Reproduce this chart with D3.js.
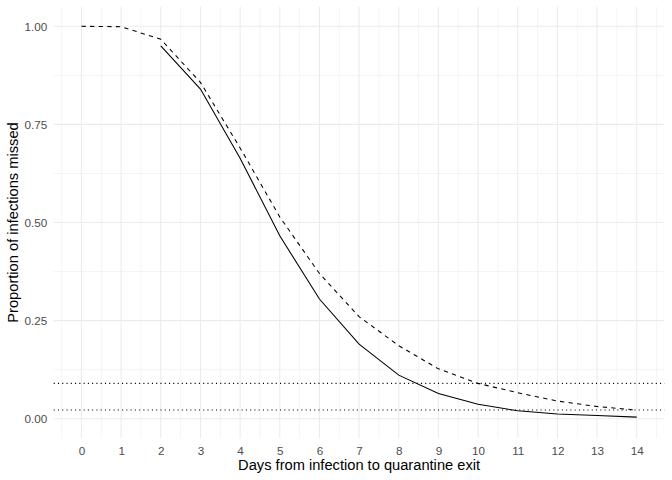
<!DOCTYPE html>
<html><head><meta charset="utf-8">
<script src="https://cdn.jsdelivr.net/npm/d3@7"></script>
<style>body{margin:0;background:#fff}svg{display:block}</style>
</head><body>
<script>
const days = [0,1,2,3,4,5,6,7,8,9,10,11,12,13,14];
const dashedVals = [1.0,0.999,0.967,0.857,0.690,0.514,0.370,0.260,0.186,0.127,0.090,0.066,0.045,0.031,0.022];
const solidDays = [2,3,4,5,6,7,8,9,10,11,12,13,14];
const solidVals = [0.950,0.840,0.664,0.466,0.305,0.190,0.111,0.064,0.037,0.020,0.012,0.008,0.004];
const hlines = [0.090, 0.022];
const yTicks = [0, 0.25, 0.5, 0.75, 1.0];
const yMinor = [0.125, 0.375, 0.625, 0.875];
const xMinor = d3.range(-0.5, 15, 1);

const W = 672, H = 480;
const pl = 53.7, pr = 664.5, pt = 6.7, pb = 438.3;
const x = d3.scaleLinear().domain([-0.7, 14.7]).range([pl, pr]);
const y = d3.scaleLinear().domain([-0.05, 1.05]).range([pb, pt]);

const svg = d3.select("body").append("svg").attr("width", W).attr("height", H);
const font = "'Liberation Sans', Arial, Helvetica, sans-serif";
const grid = svg.append("g");
grid.selectAll(".xm").data(xMinor).join("line")
  .attr("x1", d => x(d)).attr("x2", d => x(d)).attr("y1", pt).attr("y2", pb)
  .attr("stroke", "#EBEBEB").attr("stroke-width", 0.55);
grid.selectAll(".ym").data(yMinor).join("line")
  .attr("x1", pl).attr("x2", pr).attr("y1", d => y(d)).attr("y2", d => y(d))
  .attr("stroke", "#EBEBEB").attr("stroke-width", 0.55);
grid.selectAll(".xM").data(days).join("line")
  .attr("x1", d => x(d)).attr("x2", d => x(d)).attr("y1", pt).attr("y2", pb)
  .attr("stroke", "#EBEBEB").attr("stroke-width", 1.07);
grid.selectAll(".yM").data(yTicks).join("line")
  .attr("x1", pl).attr("x2", pr).attr("y1", d => y(d)).attr("y2", d => y(d))
  .attr("stroke", "#EBEBEB").attr("stroke-width", 1.07);

// axes via d3 axis, styled like ggplot
const xAxis = svg.append("g").attr("transform", `translate(0,${pb})`)
  .call(d3.axisBottom(x).tickValues(days).tickSize(0).tickPadding(8).tickFormat(d3.format("d")));
xAxis.select(".domain").remove();
xAxis.selectAll("text").attr("fill", "#4D4D4D").style("font-family", font).style("font-size", "11.7px");

const yAxis = svg.append("g").attr("transform", `translate(${pl},0)`)
  .call(d3.axisLeft(y).tickValues(yTicks).tickSize(0).tickPadding(6.5).tickFormat(d3.format(".2f")));
yAxis.select(".domain").remove();
yAxis.selectAll("text").attr("fill", "#4D4D4D").style("font-family", font).style("font-size", "11.7px");

svg.selectAll(".hl").data(hlines).join("line")
  .attr("x1", pl).attr("x2", pr).attr("y1", d => y(d)).attr("y2", d => y(d))
  .attr("stroke", "#000").attr("stroke-width", 1.07).attr("stroke-dasharray", "1.07,3.2");

const line = d3.line().x(d => x(d[0])).y(d => y(d[1]));
svg.append("path").datum(days.map((d, i) => [d, dashedVals[i]]))
  .attr("d", line).attr("fill", "none").attr("stroke", "#000")
  .attr("stroke-width", 1.07).attr("stroke-dasharray", "4.3,4.3");
svg.append("path").datum(solidDays.map((d, i) => [d, solidVals[i]]))
  .attr("d", line).attr("fill", "none").attr("stroke", "#000")
  .attr("stroke-width", 1.07);

svg.append("text").attr("x", (pl + pr) / 2).attr("y", 469.5).attr("text-anchor", "middle")
  .style("font-family", font).style("font-size", "14.67px").attr("fill", "#000")
  .text("Days from infection to quarantine exit");
svg.append("text").attr("transform", `translate(18,${(pt + pb) / 2}) rotate(-90)`)
  .attr("text-anchor", "middle")
  .style("font-family", font).style("font-size", "14.67px").attr("fill", "#000")
  .text("Proportion of infections missed");
</script>
</body></html>
